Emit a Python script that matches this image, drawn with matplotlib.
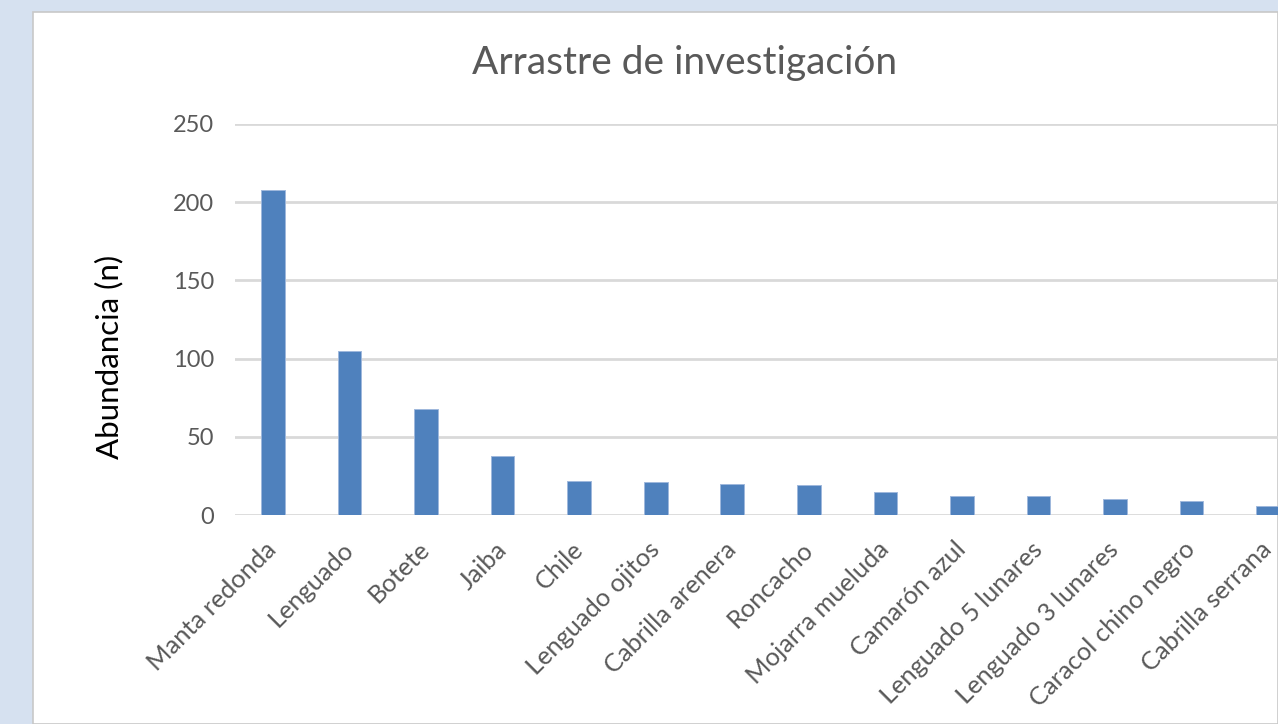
import matplotlib.pyplot as plt
from matplotlib.patches import Rectangle
import numpy as np

# datos
especies = ['Manta redonda', 'Lenguado', 'Botete', 'Jaiba', 'Chile',
            'Lenguado ojitos', 'Cabrilla arenera', 'Roncacho', 'Mojarra mueluda',
            'Camarón azul', 'Lenguado 5 lunares', 'Lenguado 3 lunares',
            'Caracol chino negro', 'Cabrilla serrana']
abundancia = [208, 105, 68, 38, 22, 21, 20, 19, 15, 12, 12, 10, 9, 6]
y_ticks = [0, 50, 100, 150, 200, 250]

W, H = 1278, 724
plt.rcParams['font.family'] = ['Lato', 'DejaVu Sans']

fig = plt.figure(figsize=(W / 100, H / 100), dpi=100)
fig.patch.set_facecolor('#d6e1f0')

# area blanca del grafico
fig.patches.append(Rectangle((33 / W, 0), 1 - 33 / W, (H - 12) / H,
                             transform=fig.transFigure, facecolor='white',
                             edgecolor='#c8c8c8', linewidth=1.2, zorder=-5))

ax = fig.add_axes([234.7 / W, (H - 515) / H, 1 - 234.7 / W, (515 - 124) / H])
ax.set_facecolor('none')
ax.set_zorder(2)

x = np.arange(len(especies))
ax.bar(x, abundancia, width=0.31, color='#4f81bd', edgecolor='#9fb8dc',
       linewidth=0.7, zorder=3)

ax.set_xlim(-0.5, (W - 234.7) / 76.55 - 0.5)
ax.set_ylim(0, 250)
ax.set_yticks(y_ticks)
ax.yaxis.grid(True, color='#d9d9d9', linewidth=2, zorder=0)
ax.set_axisbelow(True)
for s in ax.spines.values():
    s.set_visible(False)
ax.tick_params(axis='both', length=0, colors='#595959')
ax.tick_params(axis='y', pad=15, labelsize=17)

ax.set_xticks(x)
ax.set_xticklabels(especies, rotation=45, ha='right', va='center',
                   rotation_mode='anchor')
ax.tick_params(axis='x', pad=22, labelsize=18.3)

ax.set_ylabel('Abundancia (n)', fontsize=22.5, color='black')
ax.yaxis.set_label_coords(123 / W, (H - 357) / H, transform=fig.transFigure)

fig.text(685 / W, (H - 63) / H, 'Arrastre de investigación', fontsize=28,
         color='#595959', ha='center', va='center')

fig.savefig('out.png', dpi=100)
